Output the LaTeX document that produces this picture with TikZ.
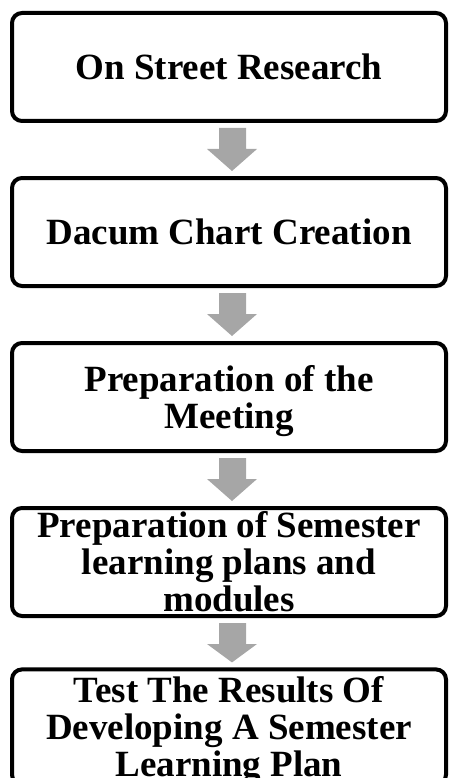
\documentclass[tikz,border=0pt]{standalone}
\usepackage{fontspec}
\setmainfont{Liberation Serif}
\usetikzlibrary{calc}
\definecolor{arrowgray}{HTML}{A6A6A6}
\tikzset{
  stage/.style={draw,line width=4pt,rounded corners=10pt,minimum width=434pt,minimum height=108pt,
    inner sep=0pt,align=center,font=\fontsize{37}{37}\selectfont\bfseries},
}
% invisible strut that pushes the first line of a box down
\newcommand\topstrut[1]{\rule{0pt}{#1}}
% grey block arrow from the bottom of #1 to the top of #2
\newcommand\stagearrow[2]{%
  \fill[arrowgray]($(#1.south)+(-10,5)$)--($(#1.south)+(-10,26)$)--($(#1.south)+(-22,26)$)
    --($(#2.north)+(3,-5)$)--($(#1.south)+(28,26)$)--($(#1.south)+(17,26)$)--($(#1.south)+(17,5)$)--cycle;}
\begin{document}
\begin{tikzpicture}[x=1pt,y=-1pt]
\useasboundingbox(0,0)rectangle(448,778);
\clip(0,0)rectangle(448,778);
%
\node[stage](research)at(229,67){On Street Research};
\node[stage](dacum)at(229,232){Dacum Chart Creation};
\node[stage](meeting)at(229,397){\topstrut{35pt}Preparation of the\\Meeting};
\node[stage](plans)at(229,562){Preparation of Semester\\learning plans and\\modules};
\node[stage](test)at(229,727){\topstrut{33pt}Test The Results Of\\Developing A Semester\\Learning Plan};
%
\foreach\a/\b in{research/dacum,dacum/meeting,meeting/plans,plans/test}{\stagearrow{\a}{\b}}
\end{tikzpicture}
\end{document}
